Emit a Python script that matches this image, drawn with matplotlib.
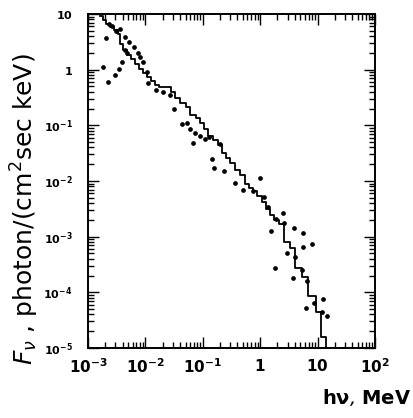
#!/usr/bin/env python3
from __future__ import annotations

import matplotlib

matplotlib.use("Agg")
import matplotlib.pyplot as plt
from matplotlib.ticker import FixedLocator, LogLocator, NullFormatter

# measured points (photon energy in MeV, flux in photon/(cm2 sec keV))
dot_energy = [
    1.85e-3, 2.06e-3, 2.26e-3, 2.95e-3, 3.47e-3, 3.99e-3, 2.62e-3, 3.60e-3,
    4.42e-3, 5.18e-3, 6.45e-3, 7.43e-3, 8.05e-3, 9.19e-3, 4.42e-3, 4.84e-3,
    1.05e-2, 1.12e-2, 1.56e-2, 2.05e-2, 2.69e-2, 3.15e-2, 4.29e-2, 5.37e-2,
    5.98e-2, 7.31e-2, 8.93e-2, 6.84e-2, 0.109, 0.128, 0.200, 0.142,
    0.154, 0.236, 0.364, 0.508, 0.759, 0.99, 1.18, 1.37,
    2.45, 1.88, 2.60, 1.54, 3.88, 5.64, 7.89, 5.64,
    2.90, 4.04, 1.81, 3.78, 6.46, 12.3, 6.35, 8.65,
    14.4, 11.8, 5.28, 2.32e-3, 3.08e-3,
]
dot_flux = [
    1.13, 3.71, 0.61, 0.80, 1.02, 1.39, 5.97, 5.31,
    3.91, 3.18, 2.59, 2.02, 1.71, 1.39, 2.26, 2.0,
    0.92, 0.585, 0.44, 0.40, 0.35, 0.195, 0.104, 0.110,
    0.086, 0.0716, 0.0632, 0.0478, 0.057, 0.0627, 0.0454, 0.0244,
    0.0170, 0.0154, 0.00935, 0.00692, 0.00656, 0.0115, 0.00508, 0.00339,
    0.00267, 0.00206, 0.00179, 0.00124, 0.00146, 0.00114, 7.52e-4, 6.47e-4,
    5.06e-4, 4.40e-4, 2.75e-4, 1.82e-4, 1.57e-4, 7.55e-5, 5.2e-5, 6.4e-5,
    3.68e-5, 4.52e-5, 2.54e-4, 6.6, 4.95,
]

# model spectrum (histogram bin edges in MeV, level per bin)
model_edges = [
    1.62e-3, 1.82e-3, 2.06e-3, 2.42e-3, 2.84e-3, 3.33e-3, 3.61e-3, 4.07e-3,
    4.78e-3, 5.61e-3, 6.59e-3, 7.74e-3, 9.08e-3, 1.07e-2, 1.25e-2, 1.47e-2,
    1.73e-2, 2.79e-2, 3.28e-2, 4.01e-2, 5.09e-2, 5.98e-2, 7.62e-2, 8.93e-2,
    0.105, 0.123, 0.151, 0.184, 0.216, 0.254, 0.298, 0.364,
    0.445, 0.543, 0.638, 0.750, 0.879, 1.07, 1.26, 1.48,
    1.74, 2.13, 2.60, 3.30, 4.04, 5.35, 6.81, 9.38,
    11.5, 14.0,
]
model_flux = [
    9.2, 7.8, 6.6, 5.8, 5.2, 4.4, 2.9, 2.26,
    1.84, 1.56, 1.26, 1.03, 0.87, 0.74, 0.63, 0.53,
    0.49, 0.40, 0.31, 0.25, 0.214, 0.154, 0.136, 0.110,
    0.086, 0.065, 0.055, 0.0445, 0.0319, 0.026, 0.0211, 0.0158,
    0.0129, 0.00887, 0.00752, 0.00664, 0.0054, 0.00422, 0.00316, 0.00246,
    0.0020, 0.0017, 8.07e-4, 6.30e-4, 2.75e-4, 1.90e-4, 8.65e-5, 4.47e-5,
    1.59e-5, 1e-6,
]

x_ticks = [1e-3, 1e-2, 1e-1, 1, 10, 100]
x_labels = [r"$\mathbf{10^{-3}}$", r"$\mathbf{10^{-2}}$", r"$\mathbf{10^{-1}}$",
            r"$\mathbf{1}$", r"$\mathbf{10}$", r"$\mathbf{10^{2}}$"]
y_ticks = [10, 1, 1e-1, 1e-2, 1e-3, 1e-4, 1e-5]
y_labels = [r"$\mathbf{10}$", r"$\mathbf{1}$", r"$\mathbf{10^{-1}}$", r"$\mathbf{10^{-2}}$",
            r"$\mathbf{10^{-3}}$", r"$\mathbf{10^{-4}}$", r"$\mathbf{10^{-5}}$"]


def main() -> None:
    plt.rcParams["mathtext.fontset"] = "dejavusans"
    fig = plt.figure(figsize=(4.13, 4.18), dpi=100)
    ax = fig.add_axes([0.213, 0.1675, 0.695, 0.799])

    ax.step(model_edges, model_flux, where="post", color="black", lw=1.3)
    ax.plot(dot_energy, dot_flux, "o", color="black", ms=3.4, mec="none")

    ax.set_xscale("log")
    ax.set_yscale("log")
    ax.set_xlim(1e-3, 1e2)
    ax.set_ylim(1e-5, 10)

    ax.xaxis.set_major_locator(FixedLocator(x_ticks))
    ax.set_xticklabels(x_labels, fontsize=11)
    ax.yaxis.set_major_locator(FixedLocator(y_ticks))
    ax.set_yticklabels(y_labels, fontsize=8)
    for axis in (ax.xaxis, ax.yaxis):
        axis.set_minor_locator(LogLocator(base=10, subs=range(2, 10), numticks=20))
        axis.set_minor_formatter(NullFormatter())

    ax.tick_params(which="both", direction="in", top=True, right=True, width=1.0)
    ax.tick_params(which="major", length=8)
    ax.tick_params(which="minor", length=4)
    ax.tick_params(axis="x", pad=7)
    ax.tick_params(axis="y", pad=11)
    for spine in ax.spines.values():
        spine.set_linewidth(1.4)

    fig.text(0.06, 0.5, r"$F_\nu$ , photon/(cm$^2$sec keV)", rotation=90,
             ha="center", va="center", fontsize=18)
    fig.text(0.995, 0.025, r"$\mathbf{h\nu}$, $\mathbf{MeV}$", ha="right", va="bottom",
             fontsize=14, style="italic")

    fig.savefig("out.png", dpi=100)


if __name__ == "__main__":
    main()
